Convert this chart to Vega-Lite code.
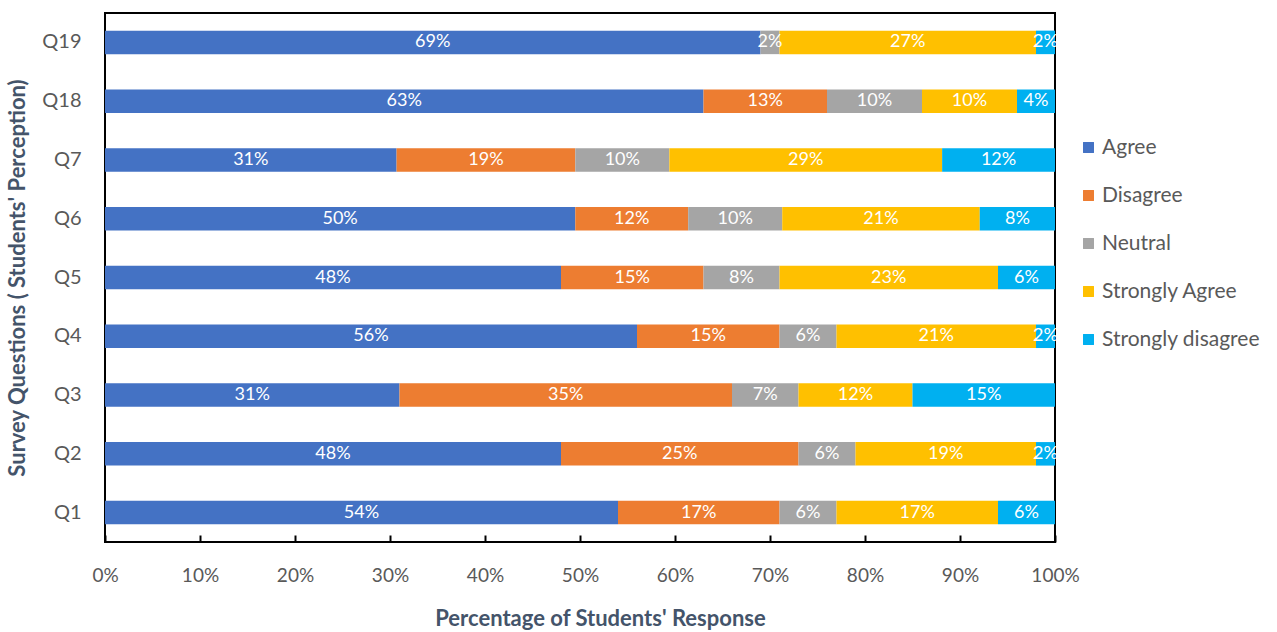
{
  "$schema": "https://vega.github.io/schema/vega-lite/v6.json",
  "width": 950,
  "height": 529,
  "autosize": {"type": "none"},
  "padding": {"left": 105, "top": 13, "right": 222, "bottom": 90},
  "background": "white",
  "config": {
    "font": "Lato",
    "view": {"stroke": "black", "strokeWidth": 2}
  },
  "data": {
    "values": [
      {"q": "Q19", "cat": "Agree", "value": 0.69},
      {"q": "Q19", "cat": "Neutral", "value": 0.02},
      {"q": "Q19", "cat": "Strongly Agree", "value": 0.27},
      {"q": "Q19", "cat": "Strongly disagree", "value": 0.02},
      {"q": "Q18", "cat": "Agree", "value": 0.63},
      {"q": "Q18", "cat": "Disagree", "value": 0.13},
      {"q": "Q18", "cat": "Neutral", "value": 0.10},
      {"q": "Q18", "cat": "Strongly Agree", "value": 0.10},
      {"q": "Q18", "cat": "Strongly disagree", "value": 0.04},
      {"q": "Q7", "cat": "Agree", "value": 0.31},
      {"q": "Q7", "cat": "Disagree", "value": 0.19},
      {"q": "Q7", "cat": "Neutral", "value": 0.10},
      {"q": "Q7", "cat": "Strongly Agree", "value": 0.29},
      {"q": "Q7", "cat": "Strongly disagree", "value": 0.12},
      {"q": "Q6", "cat": "Agree", "value": 0.50},
      {"q": "Q6", "cat": "Disagree", "value": 0.12},
      {"q": "Q6", "cat": "Neutral", "value": 0.10},
      {"q": "Q6", "cat": "Strongly Agree", "value": 0.21},
      {"q": "Q6", "cat": "Strongly disagree", "value": 0.08},
      {"q": "Q5", "cat": "Agree", "value": 0.48},
      {"q": "Q5", "cat": "Disagree", "value": 0.15},
      {"q": "Q5", "cat": "Neutral", "value": 0.08},
      {"q": "Q5", "cat": "Strongly Agree", "value": 0.23},
      {"q": "Q5", "cat": "Strongly disagree", "value": 0.06},
      {"q": "Q4", "cat": "Agree", "value": 0.56},
      {"q": "Q4", "cat": "Disagree", "value": 0.15},
      {"q": "Q4", "cat": "Neutral", "value": 0.06},
      {"q": "Q4", "cat": "Strongly Agree", "value": 0.21},
      {"q": "Q4", "cat": "Strongly disagree", "value": 0.02},
      {"q": "Q3", "cat": "Agree", "value": 0.31},
      {"q": "Q3", "cat": "Disagree", "value": 0.35},
      {"q": "Q3", "cat": "Neutral", "value": 0.07},
      {"q": "Q3", "cat": "Strongly Agree", "value": 0.12},
      {"q": "Q3", "cat": "Strongly disagree", "value": 0.15},
      {"q": "Q2", "cat": "Agree", "value": 0.48},
      {"q": "Q2", "cat": "Disagree", "value": 0.25},
      {"q": "Q2", "cat": "Neutral", "value": 0.06},
      {"q": "Q2", "cat": "Strongly Agree", "value": 0.19},
      {"q": "Q2", "cat": "Strongly disagree", "value": 0.02},
      {"q": "Q1", "cat": "Agree", "value": 0.54},
      {"q": "Q1", "cat": "Disagree", "value": 0.17},
      {"q": "Q1", "cat": "Neutral", "value": 0.06},
      {"q": "Q1", "cat": "Strongly Agree", "value": 0.17},
      {"q": "Q1", "cat": "Strongly disagree", "value": 0.06}
    ]
  },
  "transform": [
    {"stack": "value", "groupby": ["q"], "sort": [{"field": "cat", "order": "ascending"}], "offset": "normalize", "as": ["s0", "s1"]}
  ],
  "encoding": {
    "y": {
      "field": "q",
      "type": "nominal",
      "sort": ["Q19", "Q18", "Q7", "Q6", "Q5", "Q4", "Q3", "Q2", "Q1"],
      "scale": {"paddingInner": 0.6, "paddingOuter": 0.3},
      "axis": {
        "title": "Survey Questions ( Students' Perception)",
        "titleFontSize": 22,
        "titleFontWeight": "bold",
        "titleColor": "#44546A",
        "titlePadding": 12,
        "labelFontSize": 20,
        "labelColor": "#595959",
        "labelPadding": 24,
        "ticks": false,
        "domain": false
      }
    }
  },
  "layer": [
    {
      "mark": {"type": "bar"},
      "encoding": {
        "x": {
          "field": "s0",
          "type": "quantitative",
          "scale": {"domain": [0, 1], "nice": false},
          "axis": {
            "title": "Percentage of Students' Response",
            "format": ".0%",
            "values": [0, 0.1, 0.2, 0.3, 0.4, 0.5, 0.6, 0.7, 0.8, 0.9, 1],
            "grid": false,
            "domain": false,
            "labelFlush": false,
            "tickColor": "black",
            "tickSize": -7,
            "tickWidth": 2,
            "labelFontSize": 19,
            "labelColor": "#595959",
            "labelPadding": 31,
            "titleFontSize": 22,
            "titleFontWeight": "bold",
            "titleColor": "#44546A",
            "titlePadding": 23,
            "titleX": 495
          }
        },
        "x2": {"field": "s1"},
        "color": {
          "field": "cat",
          "type": "nominal",
          "scale": {
            "domain": ["Agree", "Disagree", "Neutral", "Strongly Agree", "Strongly disagree"],
            "range": ["#4472C4", "#ED7D31", "#A5A5A5", "#FFC000", "#00B0F0"]
          },
          "legend": {
            "title": null,
            "orient": "none",
            "legendX": 973,
            "legendY": 124,
            "symbolType": "square",
            "symbolSize": 120,
            "symbolStrokeWidth": 0,
            "labelFontSize": 21,
            "labelColor": "#595959",
            "rowPadding": 26,
            "labelOffset": 3
          }
        }
      }
    },
    {
      "transform": [
        {"fold": ["s0", "s1"], "as": ["k", "pos"]},
        {"aggregate": [{"op": "mean", "field": "pos", "as": "mid"}], "groupby": ["q", "cat", "value"]}
      ],
      "mark": {"type": "text", "color": "white", "fontSize": 18, "align": "center", "baseline": "middle"},
      "encoding": {
        "x": {"field": "mid", "type": "quantitative"},
        "text": {"field": "value", "type": "quantitative", "format": ".0%"}
      }
    }
  ]
}
